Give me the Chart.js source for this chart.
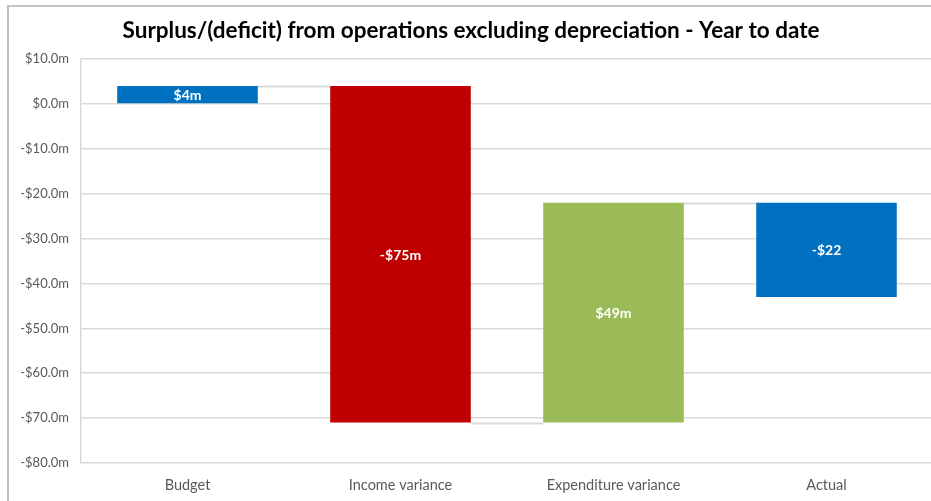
<!DOCTYPE html>
<html>
<head>
<meta charset="utf-8">
<script src="https://cdn.jsdelivr.net/npm/chart.js@4.4.1/dist/chart.umd.min.js"></script>
<style>
  html, body { margin: 0; padding: 0; background: #fff; overflow: hidden; width: 931px; height: 501px; }
  #wrap { position: absolute; left: 7px; top: 5px; width: 924px; height: 494px;
          border-left: 2px solid #bfbfbf; border-top: 2px solid #c4c4c4; }
  #c { display: block; }
</style>
</head>
<body>
<div id="wrap"><canvas id="c" width="924" height="494"></canvas></div>
<script>
const categories = ['Budget', 'Income variance', 'Expenditure variance', 'Actual'];
const barStart = [0, 4, -71, -22];
const barEnd = [4, -71, -22, -43];
const barLabels = ['$4m', '-$75m', '$49m', '-$22'];
const barColors = ['#0070C0', '#C00000', '#9BBB59', '#0070C0'];
const yTicks = [10, 0, -10, -20, -30, -40, -50, -60, -70, -80];

const FONT = "Lato, 'Open Sans', sans-serif";

const connectorPlugin = {
  id: 'connectors',
  beforeDatasetsDraw(chart) {
    const meta = chart.getDatasetMeta(0);
    const y = chart.scales.y;
    const ctx = chart.ctx;
    ctx.save();
    ctx.strokeStyle = '#d9d9d9';
    ctx.lineWidth = 2;
    for (let i = 0; i < meta.data.length - 1; i++) {
      const a = meta.data[i], b = meta.data[i + 1];
      const py = Math.round(y.getPixelForValue(barEnd[i])) + 0.5;
      ctx.beginPath();
      ctx.moveTo(a.x + a.width / 2, py);
      ctx.lineTo(b.x - b.width / 2, py);
      ctx.stroke();
    }
    ctx.restore();
  }
};

const labelPlugin = {
  id: 'barLabels',
  afterDatasetsDraw(chart) {
    const meta = chart.getDatasetMeta(0);
    const ctx = chart.ctx;
    ctx.save();
    ctx.fillStyle = '#ffffff';
    ctx.font = "bold 14px " + FONT;
    ctx.textAlign = 'center';
    ctx.textBaseline = 'middle';
    meta.data.forEach((bar, i) => {
      const cy = (bar.y + bar.base) / 2;
      ctx.fillText(barLabels[i], bar.x, cy + 1);
    });
    ctx.restore();
  }
};

new Chart(document.getElementById('c'), {
  type: 'bar',
  data: {
    labels: categories,
    datasets: [{
      data: barStart.map((s, i) => [s, barEnd[i]]),
      backgroundColor: barColors,
      borderWidth: 0,
      borderSkipped: false,
      categoryPercentage: 1.0,
      barPercentage: 0.66
    }]
  },
  options: {
    responsive: false,
    animation: false,
    devicePixelRatio: 1,
    layout: { padding: { left: 0, right: 0, top: 0, bottom: 0 } },
    plugins: {
      legend: { display: false },
      tooltip: { enabled: false },
      title: {
        display: true,
        text: 'Surplus/(deficit) from operations excluding depreciation - Year to date',
        color: '#000000',
        font: { family: FONT, size: 22.5, weight: 'bold' },
        padding: { top: 10, bottom: 15 }
      }
    },
    scales: {
      x: {
        grid: { display: false, drawTicks: false, tickLength: 0 },
        border: { display: false },
        afterFit(scale) { scale.height = 38; },
        ticks: { color: '#595959', font: { family: FONT, size: 14.5 }, padding: 14 }
      },
      y: {
        min: -80, max: 10,
        afterBuildTicks(scale) { scale.ticks = yTicks.map(v => ({ value: v })); },
        afterFit(scale) { scale.width = 72; },
        grid: { color: '#d9d9d9', lineWidth: 1.5, drawTicks: false },
        border: { display: true, color: '#d9d9d9', width: 1.5 },
        ticks: {
          color: '#595959', font: { family: FONT, size: 13 }, padding: 12,
          callback: v => (v < 0 ? '-$' : '$') + Math.abs(v).toFixed(1) + 'm'
        }
      }
    }
  },
  plugins: [connectorPlugin, labelPlugin]
});
</script>
</body>
</html>
